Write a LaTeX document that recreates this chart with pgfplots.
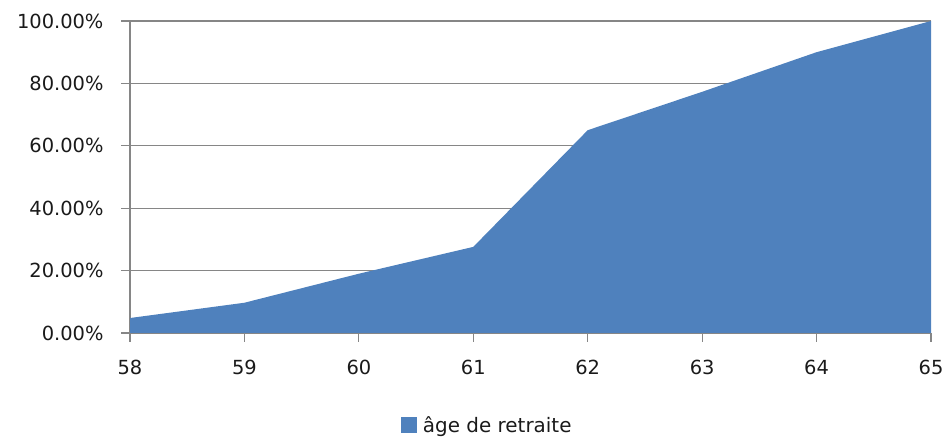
\documentclass[border=0pt]{standalone}
\usepackage{pgfplots}
\pgfplotsset{compat=1.18}
\usepackage{fontspec}
\setmainfont{DejaVu Sans}
\definecolor{areablue}{HTML}{4F81BD}
\definecolor{gridgray}{HTML}{868686}
\definecolor{txt}{HTML}{1A1A1A}
\begin{document}
\begin{tikzpicture}[x=1bp,y=1bp]
\path[use as bounding box] (0,0) rectangle (944,437);
\begin{axis}[
  at={(130bp,104bp)}, anchor=south west,
  scale only axis, width=801bp, height=312bp,
  xmin=58, xmax=65, ymin=0, ymax=100,
  xtick={58,59,60,61,62,63,64,65},
  ytick={0,20,40,60,80,100},
  /pgf/number format/assume math mode=true,
  yticklabel={\pgfmathprintnumber[fixed,fixed zerofill,precision=2]{\tick}\%},
  axis lines*=left,
  axis line style={draw=gridgray, line width=1.2bp, -},
  ymajorgrids,
  grid style={draw=gridgray, line width=1.2bp},
  tick style={draw=gridgray, line width=1.2bp},
  tick align=outside,
  major tick length=9bp,
  ticklabel style={font=\fontsize{19.5}{23}\selectfont, text=txt},
  yticklabel style={anchor=east, xshift=-14bp},
  xticklabel style={anchor=north, yshift=-15bp},
  legend style={draw=none, fill=none, at={(0.446,-0.295)}, anchor=center,
    font=\fontsize{20}{24}\selectfont, text=txt},
  legend image code/.code={\fill[areablue] (0bp,-8bp) rectangle (16bp,8bp); \path (20bp,0bp);},
  clip=false,
]
\addplot[fill=areablue, draw=none] coordinates {
  (58,4.8) (59,9.7) (60,19.0) (61,27.6) (62,65.0) (63,77.3) (64,90.0) (65,100)
} \closedcycle;
\addlegendentry{âge de retraite}
\end{axis}
\end{tikzpicture}
\end{document}
